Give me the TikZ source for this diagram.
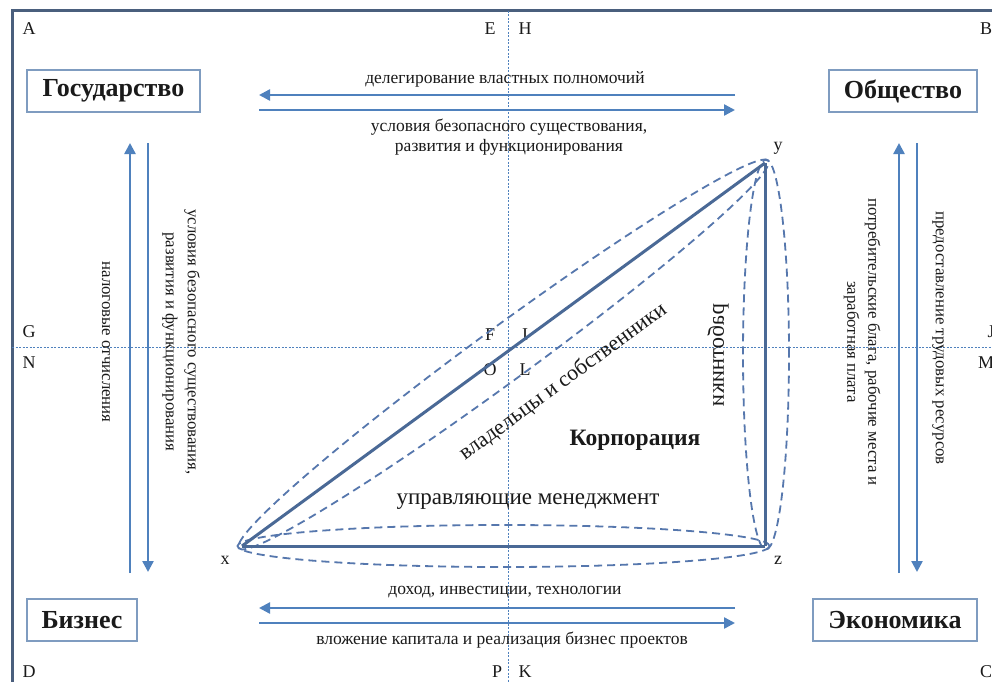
\documentclass[tikz,border=0pt]{standalone}
\usepackage{fontspec}
\setmainfont{Liberation Serif}
\usetikzlibrary{arrows.meta}
\definecolor{framec}{HTML}{4A5F7D}
\definecolor{arrc}{HTML}{4F81BD}
\definecolor{tric}{HTML}{4A6996}
\definecolor{dshc}{HTML}{5677AD}
\definecolor{boxc}{HTML}{7F9CC0}
\definecolor{txtc}{HTML}{1A1A1A}
\begin{document}
\begin{tikzpicture}[x=1pt,y=-1pt,
  lbl/.style={font=\fontsize{18}{18}\selectfont, inner sep=0pt, text=txtc},
  ent/.style={draw=boxc, line width=1.6pt, font=\fontsize{26}{26}\selectfont\bfseries, minimum height=42pt, inner sep=0pt, text=txtc},
  small/.style={font=\fontsize{17.5}{20}\selectfont, align=center, inner sep=0pt, text=txtc},
  vsmall/.style={font=\fontsize{16.8}{20}\selectfont, align=center, inner sep=0pt, text=txtc},
  big/.style={font=\fontsize{23}{23}\selectfont, inner sep=0pt, text=txtc},
  flow/.style={arrc, line width=2.4pt, -{Triangle[length=11pt,width=11pt]}},
  guide/.style={arrc, line width=0.8pt, dash pattern=on 2pt off 1.5pt},
  side/.style={tric, line width=3pt},
  hull/.style={dshc, line width=1.8pt, dash pattern=on 8pt off 5pt},
]
\useasboundingbox (0,0) rectangle (992,682);
\fill[white] (0,0) rectangle (992,682);
% frame
\coordinate (fTR) at (992,11);
\coordinate (fTL) at (12,11);
\coordinate (fBL) at (12,682);
\draw[framec, line width=3pt] (fTR) -- (fTL) -- (fBL);
% guide lines
\coordinate (gT) at (508,11);
\coordinate (gB) at (508,682);
\coordinate (gL) at (12,347);
\coordinate (gR) at (992,347);
\draw[guide] (gT) -- (gB);
\draw[guide] (gL) -- (gR);
% letter labels
\node[lbl] (lA) at (29,29) {A};
\node[lbl] (lE) at (490,29) {E};
\node[lbl] (lH) at (525,29) {H};
\node[lbl] (lB) at (986,29) {B};
\node[lbl] (lG) at (29,332) {G};
\node[lbl] (lF) at (490,335) {F};
\node[lbl] (lI) at (525,335) {I};
\node[lbl] (lJ) at (991,332) {J};
\node[lbl] (lN) at (29,363) {N};
\node[lbl] (lO) at (490,370) {O};
\node[lbl] (lL) at (525,370) {L};
\node[lbl] (lM) at (986,363) {M};
\node[lbl] (lD) at (29,672) {D};
\node[lbl] (lP) at (497,672) {P};
\node[lbl] (lK) at (525,672) {K};
\node[lbl] (lC) at (986,672) {C};
% entity boxes
\node[ent, minimum width=173pt] (gos) at (113.5,91) {Государство};
\node[ent, minimum width=148pt] (obs) at (903,91) {Общество};
\node[ent, minimum width=110pt] (biz) at (82,620) {Бизнес};
\node[ent, minimum width=164pt] (eco) at (895,620) {Экономика};
% top flows
\coordinate (ta1) at (735,95); \coordinate (ta2) at (259,95);
\coordinate (tb1) at (259,110); \coordinate (tb2) at (735,110);
\draw[flow] (ta1) -- (ta2);
\draw[flow] (tb1) -- (tb2);
\node[small] (ttop1) at (505,79) {делегирование властных полномочий};
\node[small] (ttop2) at (509,137) {условия безопасного существования,\\развития и функционирования};
% bottom flows
\coordinate (ba1) at (735,608); \coordinate (ba2) at (259,608);
\coordinate (bb1) at (259,623); \coordinate (bb2) at (735,623);
\draw[flow] (ba1) -- (ba2);
\draw[flow] (bb1) -- (bb2);
\node[small] (tbot1) at (505,592) {доход, инвестиции, технологии};
\node[small] (tbot2) at (502,640) {вложение капитала и реализация бизнес проектов};
% left flows
\coordinate (la1) at (130,573); \coordinate (la2) at (130,143);
\coordinate (lb1) at (148,143); \coordinate (lb2) at (148,572);
\draw[flow] (la1) -- (la2);
\draw[flow] (lb1) -- (lb2);
\node[vsmall, rotate=-90] (tleft1) at (106,342) {налоговые отчисления};
\node[vsmall, rotate=-90, font=\fontsize{16.8}{22}\selectfont] (tleft2) at (181,342) {условия безопасного существования,\\развития и функционирования};
% right flows
\coordinate (ra1) at (899,573); \coordinate (ra2) at (899,143);
\coordinate (rb1) at (917,143); \coordinate (rb2) at (917,572);
\draw[flow] (ra1) -- (ra2);
\draw[flow] (rb1) -- (rb2);
\node[vsmall, rotate=-90] (tright1) at (938,338) {предоставление трудовых ресурсов};
\node[vsmall, rotate=-90, font=\fontsize{16.8}{21}\selectfont] (tright2) at (862,342) {потребительские блага, рабочие места и\\заработная плата};
% corporation triangle
\coordinate (vx) at (242,546);
\coordinate (vy) at (765,163);
\coordinate (vz) at (765,546);
\coordinate (mxy) at (503.5,354.5);
\coordinate (mxz) at (503.5,546);
\coordinate (myz) at (766,354.5);
\draw[hull, rotate around={36.2:(mxy)}] (mxy) ellipse [x radius=328pt, y radius=27pt];
\draw[hull] (mxz) ellipse [x radius=266pt, y radius=21pt];
\draw[hull] (myz) ellipse [x radius=23pt, y radius=195pt];
\draw[side] (vx) -- (vy);
\draw[side] (vy) -- (vz);
\draw[side] (vx) -- (vz);
\node[lbl] (lx) at (225,560) {x};
\node[lbl] (ly) at (778,148) {y};
\node[lbl] (lz) at (778,560) {z};
\node[big, rotate=36.2, font=\fontsize{22}{22}\selectfont] (towners) at (563,382) {владельцы и собственники};
\node[big, font=\fontsize{23.5}{23.5}\selectfont\bfseries] (tcorp) at (635,440) {Корпорация};
\node[big] (tmgmt) at (528,502) {управляющие менеджмент};
\node[big, rotate=-90, yscale=-1] (tworkers) at (718,355) {работники};
\end{tikzpicture}
\end{document}
